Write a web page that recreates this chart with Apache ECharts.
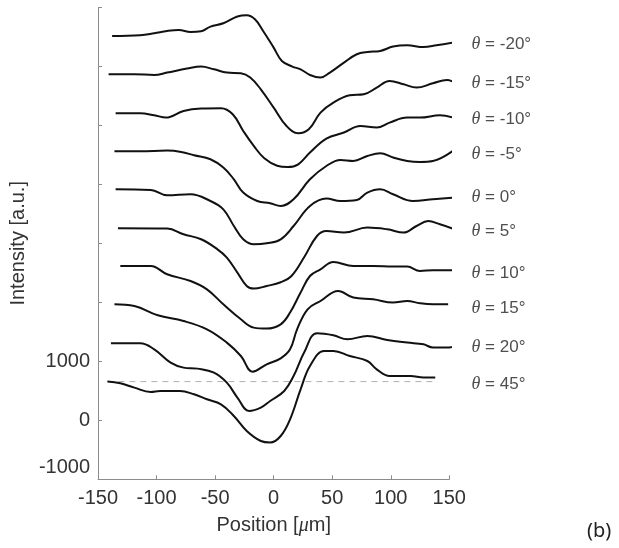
<!DOCTYPE html>
<html><head><meta charset="utf-8">
<script src="https://cdn.jsdelivr.net/npm/echarts@6/dist/echarts.min.js"></script>
<style>html,body{margin:0;padding:0;background:#fff}#c{width:619px;height:548px}</style>
</head><body><div id="c"></div>
<script>
// x ticks and y ticks
const xTicks = [-150, -100, -50, 0, 50, 100, 150];
const yTickLabels = [-1000, 0, 1000];
const angles = ['-20', '-15', '-10', '-5', '0', '5', '10', '15', '20', '45'];
const labelX = 169;
const labelY = [6373, 5712, 5102, 4509, 3780, 3204, 2492, 1898, 1237, 610];

const curveM20 = [[-138,6514],[-114,6526],[-102,6560],[-91,6599],[-81,6616],[-71,6582],[-62,6594],[-54,6673],[-43,6729],[-31,6843],[-23,6865],[-16,6797],[-9,6599],[0,6317],[7,6090],[16,5995],[23,5949],[31,5853],[40,5809],[48,5894],[60,6063],[71,6204],[80,6243],[91,6260],[102,6334],[114,6356],[128,6327],[139,6356],[153,6402]];
const curveM15 = [[-141,5865],[-119,5865],[-102,5853],[-91,5894],[-74,5961],[-62,5995],[-51,5949],[-40,5894],[-28,5882],[-20,5809],[-11,5610],[0,5300],[11,4988],[21,4865],[30,4932],[40,5216],[51,5385],[65,5509],[77,5526],[88,5639],[99,5751],[111,5695],[122,5639],[136,5712],[148,5768],[153,5741]];
const curveM10 = [[-135,5204],[-114,5204],[-102,5170],[-92,5131],[-77,5243],[-62,5283],[-45,5288],[-35,5187],[-26,4904],[-17,4650],[-8,4441],[3,4314],[12,4292],[21,4339],[31,4538],[45,4775],[60,4877],[74,4988],[88,4961],[99,5046],[114,5131],[125,5131],[142,5170],[153,5131]];
const curveM5 = [[-136,4560],[-114,4560],[-91,4571],[-79,4548],[-68,4492],[-54,4424],[-43,4283],[-34,4085],[-26,3860],[-14,3717],[-3,3678],[6,3632],[17,3746],[31,4085],[45,4310],[57,4412],[68,4395],[80,4480],[91,4526],[102,4453],[114,4395],[125,4378],[136,4395],[153,4565]];
const curve0 = [[-135,3915],[-105,3904],[-91,3814],[-71,3831],[-54,3717],[-43,3576],[-34,3293],[-26,3068],[-17,2983],[-6,3000],[6,3068],[17,3293],[31,3632],[45,3758],[57,3717],[71,3734],[80,3860],[91,3915],[102,3831],[119,3717],[136,3746],[153,3775]];
const curve5 = [[-133,3254],[-91,3249],[-77,3153],[-62,3068],[-48,2898],[-40,2758],[-31,2504],[-23,2276],[-17,2232],[-6,2276],[6,2339],[15,2441],[26,2763],[37,3124],[45,3209],[60,3182],[80,3266],[97,3237],[111,3182],[122,3293],[132,3378],[142,3322],[153,3249]];
const curve10 = [[-131,2615],[-105,2615],[-91,2475],[-71,2361],[-57,2220],[-43,1966],[-28,1712],[-17,1571],[-6,1554],[6,1627],[14,1826],[23,2165],[31,2446],[40,2559],[51,2683],[68,2615],[85,2615],[102,2605],[114,2605],[125,2531],[136,2543],[153,2543]];
const curve15 = [[-136,1966],[-119,1937],[-99,1780],[-77,1683],[-57,1542],[-40,1317],[-28,1090],[-18,825],[-6,949],[6,1051],[14,1203],[20,1542],[29,1881],[40,2022],[55,2192],[68,2080],[85,2051],[102,1995],[114,2022],[125,1983],[136,1966],[149,1966]];
const curve20 = [[-139,1305],[-114,1305],[-102,1203],[-88,978],[-77,893],[-65,876],[-51,809],[-40,639],[-31,385],[-21,158],[-11,215],[-3,327],[9,497],[17,751],[26,1148],[37,1475],[51,1441],[63,1373],[80,1429],[97,1361],[114,1317],[128,1288],[136,1232],[148,1232],[159,1288]];
const curve45 = [[-142,656],[-131,627],[-119,554],[-105,480],[-97,497],[-80,497],[-68,441],[-57,356],[-45,271],[-34,73],[-23,-181],[-11,-351],[-3,-378],[6,-266],[14,17],[23,525],[31,920],[43,1175],[51,1175],[65,1090],[80,1005],[88,864],[99,751],[117,751],[128,724],[138,724]];
const refLine = [[-142,656],[140,656]];

const curves = [curveM20, curveM15, curveM10, curveM5, curve0, curve5, curve10, curve15, curve20, curve45];

const chart = echarts.init(document.getElementById('c'), null, {renderer: 'canvas'});
const axisColor = '#8c8c8c';
const textColor = '#333';
const font = 'Liberation Sans, Arial, sans-serif';

const series = [{
  type: 'line', data: refLine, showSymbol: false, silent: true, clip: false,
  lineStyle: {color: '#b0b0b0', width: 1, type: [6, 5]}, z: 1
}];
curves.forEach(function (c) {
  series.push({type: 'line', data: c, showSymbol: false, smooth: 0.4, clip: false,
    lineStyle: {color: '#111', width: 2}, z: 3});
});
series.push({
  type: 'scatter', symbolSize: 0, clip: false, silent: true,
  data: labelY.map(function (y, i) { return {value: [labelX, y], name: angles[i]}; }),
  label: {show: true, position: 'right', distance: 0,
    formatter: function (p) { return '{t|θ}{s| = ' + p.name + '°}'; },
    rich: {
      t: {fontFamily: 'Liberation Serif, serif', fontStyle: 'italic', fontSize: 18, color: '#222'},
      s: {fontFamily: font, fontSize: 17, color: '#222'}
    }}
});

chart.setOption({
  animation: false,
  backgroundColor: '#fff',
  grid: {left: 97.5, right: 169.7, top: 7.3, bottom: 68.7, containLabel: false},
  xAxis: {
    type: 'value', min: -150, max: 150, interval: 50,
    name: 'Position [{m|μ}m]', nameLocation: 'middle', nameGap: 36,
    nameTextStyle: {fontFamily: font, fontSize: 20, color: textColor,
      rich: {m: {fontFamily: 'Liberation Serif, serif', fontStyle: 'italic', fontSize: 20, color: textColor}}},
    axisLine: {onZero: false, lineStyle: {color: axisColor, width: 1}},
    axisTick: {inside: true, length: 4, lineStyle: {color: axisColor}},
    axisLabel: {fontFamily: font, fontSize: 20, color: textColor, margin: 9},
    splitLine: {show: false}
  },
  yAxis: {
    type: 'value', min: -1000, max: 7000, interval: 1000,
    name: 'Intensity [a.u.]', nameLocation: 'middle', nameGap: 59,
    nameTextStyle: {fontFamily: font, fontSize: 20, color: textColor},
    axisLine: {show: true, onZero: false, lineStyle: {color: axisColor, width: 1}},
    axisTick: {show: true, inside: true, length: 4, lineStyle: {color: axisColor}},
    axisLabel: {fontFamily: font, fontSize: 20, color: textColor, margin: 8,
      formatter: function (v) {
        if (yTickLabels.indexOf(v) < 0) return '';
        if (v === -1000) return '{lo|' + v + '}';
        return String(v);
      },
      rich: {lo: {fontFamily: font, fontSize: 20, color: textColor, padding: [0, 0, 24, 0]}}
    },
    splitLine: {show: false}
  },
  graphic: [{type: 'text', left: 587, top: 521,
    style: {text: '(b)', fontFamily: 'Noto Sans, Open Sans, sans-serif', fontSize: 20, fill: '#222'}}],
  series: series
});
</script></body></html>
